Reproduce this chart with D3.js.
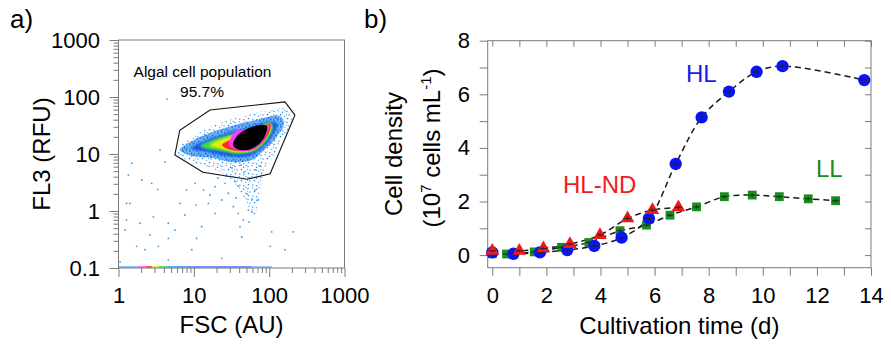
<!DOCTYPE html>
<html><head><meta charset="utf-8">
<script src="https://cdn.jsdelivr.net/npm/d3@7"></script>
<style>
body{margin:0;background:#fff;}
svg{display:block;font-family:"Liberation Sans",Arial,sans-serif;}
</style></head>
<body><svg id="c" width="891" height="350"></svg>
<script>
// ---------- Panel a data (FSC, FL3) ----------
const aTicks = [1, 10, 100, 1000];
const aYTicks = [0.1, 1, 10, 100, 1000];
const gate = [[16.4,59],[162,82],[220,48],[103,4.5],[51,3.6],[13.2,4.8],[5.6,9.6],[6.5,26]];
// density level contours (outer -> inner)
const halo = [[5.8,10.8],[8.9,19.1],[17.4,31],[41,44.6],[88,56.8],[173,61.5],[207,42.9],[153,17.6],[106,7.85],[80,3.23],[63,0.85],[47.8,1.56],[32.1,3.5],[17.4,5.7],[8.9,7.2]];
const lvlBlue = [[6.55,11.7],[9.46,16.9],[16.4,23.4],[35.2,32.3],[75.5,41.1],[139,46.5],[157,33.6],[123,19.1],[85.5,11.7],[59.2,7.85],[32.1,7.2],[17.4,8.5],[9.46,9.2]];
const lvlDeep = [[9.46,12.7],[14.1,16.9],[25.9,22.4],[55.7,29.8],[96.5,36.4],[127,33.6],[109,20.7],[80,12.7],[52.4,9.2],[28.4,9.2],[15.4,10.8]];
const lvlGreen = [[12.1,13.8],[17.4,17.6],[32.1,22.4],[64.9,28.6],[106,35],[112,28.6],[90.8,16.9],[63,11.3],[38.6,10],[22.3,11.3],[15,12.2]];
const lvlYellow = [[16.4,14.4],[23.7,18.3],[41,23.4],[71.1,28.6],[103,33.6],[106,27.5],[85.5,16.9],[61,11.7],[38.6,10.8],[23.7,12.2]];
const lvlRed = [[23.7,14.4],[32.1,18.3],[52.4,24.3],[80,29.8],[103,33.6],[103,26.4],[82.8,16.3],[59.2,11.7],[38.6,11.3],[28.4,12.2]];
const lvlMagenta = [[29.3,14.4],[36.3,25.4],[55.7,26.4],[82.8,31],[99.5,32.3],[96.5,25.4],[80,16.3],[57.4,11.7],[38.6,11.7]];
const lvlBlack = [[33.1,14.4],[37.4,20.7],[50.8,27.5],[78,32.3],[93.6,31],[88,20.7],[71.1,14.4],[50.8,11.7],[37.4,12.2]];
const sparse = [[1.35,4.3],[2.76,3.06],[3.31,2.4],[4.14,7.3],[1.28,1.36],[1.42,1.36],[1.28,0.7],[1.93,0.61],[2.9,0.79],[4.58,0.61],
 [6.55,1.36],[8.0,2.33],[10.4,3.06],[13.4,2.33],[15.6,1.36],[19.1,2.67],[23.4,1.56],[28.7,2.05],[33.4,1.19],[38.9,0.91],
 [41,0.53],[45.4,0.7],[52.9,1.04],[58.6,1.56],[64.9,2.33],[71.8,1.56],[108,0.43],[209,0.43],[1.74,0.24],[2.25,0.21],
 [3.38,0.24],[4.58,0.33],[10.9,0.33],[23.4,0.148],[4.58,0.138],[103,0.24],[162,0.21],[1.5,6.9],[1.22,0.46],[9.4,0.21],
 [43.2,0.35],[19.1,0.91],[12.7,0.53],[25.9,3.06],[35.2,3.27],[4.4,92],
 [26.7,4.1],[46.4,4.8],[55.7,3.8],[66.9,5.2],[38.6,2.75],[50.8,1.99],[59.2,0.96],[54,0.64],[36.3,1.69],[20.9,3.8],
 [16.4,1.91],[10.7,1.27],[7.6,0.85],[5.6,0.46],[2.62,0.38],[75.5,6.2],[32.1,5.7],[42.3,6.4],[1.05,0.127],[2.05,3.5],[3.56,11.7]];
const floorSegs = [[1.0,1.8,"#6ab0f0"],[1.8,2.3,"#ff50ff"],[2.3,2.8,"#ff3030"],[2.8,3.4,"#e8e020"],[3.4,4.5,"#40d040"],[4.5,8,"#30a0ff"],[8,60,"#5070ff"],[60,110,"#90b8ff"]];

// ---------- Panel b data ----------
const hlT   = [0, 0.78, 1.76, 2.77, 3.77, 4.78, 5.79, 6.78, 7.74, 8.75, 9.77, 10.73, 13.75];
const hlV   = [0.1, 0.05, 0.1, 0.19, 0.34, 0.65, 1.37, 3.4, 5.14, 6.1, 6.84, 7.05, 6.53];
const hlE   = [0.08, 0.05, 0.05, 0.05, 0.06, 0.08, 0.1, 0.12, 0.2, 0.12, 0.1, 0.1, 0.08];
const llT   = [0, 0.53, 1.55, 2.56, 3.57, 4.72, 5.7, 6.57, 7.55, 8.58, 9.61, 10.61, 11.68, 12.69];
const llV   = [0.05, 0.04, 0.12, 0.29, 0.47, 0.91, 1.12, 1.49, 1.8, 2.18, 2.24, 2.18, 2.1, 2.03];
const llE   = [0.05, 0.05, 0.06, 0.08, 0.1, 0.12, 0.1, 0.1, 0.1, 0.1, 0.1, 0.1, 0.1, 0.1];
const ndT   = [0, 1.0, 1.89, 2.87, 3.98, 5.0, 5.92, 6.88];
const ndV   = [0.16, 0.16, 0.25, 0.41, 0.75, 1.37, 1.68, 1.78];
const ndE   = [0.06, 0.06, 0.08, 0.08, 0.1, 0.12, 0.1, 0.12];
const bXTicks = d3.range(0, 15, 1);
const bYTicks = d3.range(0, 9, 1);

const svg = d3.select("#c");
const FRAME = "#7a7a7a";
const defs = svg.append("defs");
// speckle texture (style only)
const pat = defs.append("pattern").attr("id","speck").attr("patternUnits","userSpaceOnUse").attr("width",13).attr("height",11);
[[1,1.5,"#3a9ae8"],[5.2,0.8,"#54aef0"],[9.5,2.2,"#2a86e0"],[3,5,"#4aa4ee"],[7.5,4.6,"#1f7fe0"],[11.6,6.3,"#5cb4f2"],
 [1.5,8.6,"#2f8de6"],[5.8,9.3,"#49a6ef"],[9.8,9.8,"#3a9ae8"],[12,0.4,"#66b8f2"],[0.3,4.5,"#6ab8f4"]]
  .forEach(p=>pat.append("circle").attr("cx",p[0]).attr("cy",p[1]).attr("r",0.8).attr("fill",p[2]));
const pat2 = defs.append("pattern").attr("id","speck2").attr("patternUnits","userSpaceOnUse").attr("width",7).attr("height",6);
pat2.append("rect").attr("width",7).attr("height",6).attr("fill","#6fb6f4");
[[1,1,"#1c74ea"],[4.3,0.6,"#2a90f0"],[2.6,3.6,"#1560e8"],[5.8,3.2,"#30a4f4"],[0.4,5,"#2a88ee"],[4.6,5.3,"#1a6aec"]]
  .forEach(p=>pat2.append("circle").attr("cx",p[0]).attr("cy",p[1]).attr("r",1).attr("fill",p[2]));
defs.append("filter").attr("id","blur").append("feGaussianBlur").attr("stdDeviation",0.9);
defs.append("filter").attr("id","blur2").append("feGaussianBlur").attr("stdDeviation",0.5);

// ================= Panel a =================
const xA = d3.scaleLog().domain([1,1000]).range([118.5,344.5]);
const yA = d3.scaleLog().domain([0.1,1000]).range([268,40]);
const gA = svg.append("g");
const minorLog = (lo, hi) => { const r=[]; for(let d=lo; d<hi; d*=10) for(let k=2;k<10;k++) r.push(+(d*k).toPrecision(3)); return r; };

const lineA = d3.line().x(d=>xA(d[0])).y(d=>yA(d[1])).curve(d3.curveCatmullRomClosed.alpha(0.5));
gA.append("path").attr("d", lineA(halo)).attr("fill","url(#speck)");
gA.append("path").attr("d", lineA(lvlBlue)).attr("fill","url(#speck2)").attr("opacity",0.95).attr("filter","url(#blur2)");
gA.append("path").attr("d", lineA(lvlDeep)).attr("fill","#1450f5").attr("filter","url(#blur)");
gA.append("path").attr("d", lineA(lvlGreen)).attr("fill","#3ede40").attr("filter","url(#blur)");
gA.append("path").attr("d", lineA(lvlYellow)).attr("fill","#eaea10").attr("filter","url(#blur)");
gA.append("path").attr("d", lineA(lvlRed)).attr("fill","#ff2a2a").attr("filter","url(#blur2)");
gA.append("path").attr("d", lineA(lvlMagenta)).attr("fill","#ff38ff").attr("filter","url(#blur2)");
gA.append("path").attr("d", lineA(lvlBlack)).attr("fill","#000");

gA.selectAll("circle.sp").data(sparse).join("circle").attr("class","sp")
  .attr("cx",d=>xA(d[0])).attr("cy",d=>yA(d[1])).attr("r",0.9).attr("fill","#3a9ae8");
gA.selectAll("line.fl").data(floorSegs).join("line").attr("class","fl")
  .attr("x1",d=>xA(d[0])).attr("x2",d=>xA(d[1])).attr("y1",yA(0.1)-1).attr("y2",yA(0.1)-1)
  .attr("stroke",d=>d[2]).attr("stroke-width",1.6);

gA.append("path").attr("d", "M"+gate.map(d=>[xA(d[0]),yA(d[1])].join(",")).join("L")+"Z")
  .attr("fill","none").attr("stroke","#111").attr("stroke-width",1.1);

// frame + axes
gA.append("rect").attr("x",xA(1)).attr("y",yA(1000)).attr("width",xA(1000)-xA(1)).attr("height",yA(0.1)-yA(1000))
  .attr("fill","none").attr("stroke",FRAME).attr("stroke-width",1);
function styleAxis(g){ g.select(".domain").remove(); g.selectAll(".tick line").attr("stroke",FRAME); g.selectAll("text").attr("fill","#000").style("font-size","22px").style("font-family","'Liberation Sans',Arial,sans-serif"); }
gA.append("g").attr("transform",`translate(0,${yA(0.1)})`)
  .call(d3.axisBottom(xA).tickValues(aTicks).tickFormat(d3.format("d")).tickSize(9).tickPadding(10.4)).call(styleAxis);
gA.append("g").attr("transform",`translate(0,${yA(0.1)})`)
  .call(d3.axisBottom(xA).tickValues(minorLog(1,1000)).tickFormat("").tickSize(5)).call(styleAxis);
gA.append("g").attr("transform",`translate(${xA(1)},0)`)
  .call(d3.axisLeft(yA).tickValues(aYTicks).tickFormat(d=>d<1?"0.1":d3.format("d")(d)).tickSize(9).tickPadding(9.5)).call(styleAxis);
gA.append("g").attr("transform",`translate(${xA(1)},0)`)
  .call(d3.axisLeft(yA).tickValues(minorLog(0.1,1000)).tickFormat("").tickSize(5)).call(styleAxis);

gA.append("text").attr("x",(xA(1)+xA(1000))/2).attr("y",333).attr("text-anchor","middle").style("font-size","24px").text("FSC (AU)");
gA.append("text").attr("transform",`translate(50,${(yA(0.1)+yA(1000))/2}) rotate(-90)`).attr("text-anchor","middle").style("font-size","24px").text("FL3 (RFU)");
gA.append("text").attr("x",202.5).attr("y",77).attr("text-anchor","middle").style("font-size","15.5px").text("Algal cell population");
gA.append("text").attr("x",202).attr("y",97).attr("text-anchor","middle").style("font-size","15.5px").text("95.7%");
svg.append("text").attr("x",10).attr("y",28).style("font-size","26px").text("a)");

// ================= Panel b =================
const xB = d3.scaleLinear().domain([-0.17,14]).range([487.7,871]);
const yB = d3.scaleLinear().domain([-0.47,8]).range([267.7,40.7]);
const gB = svg.append("g");
gB.append("rect").attr("x",xB(-0.17)).attr("y",yB(8)).attr("width",xB(14)-xB(-0.17)).attr("height",yB(-0.47)-yB(8))
  .attr("fill","none").attr("stroke",FRAME).attr("stroke-width",1);
gB.append("g").attr("transform",`translate(0,${yB(-0.47)})`)
  .call(d3.axisBottom(xB).tickValues(bXTicks).tickFormat(d=>d%2===0?d:"").tickSize(8).tickPadding(11.7)).call(styleAxis);
gB.append("g").attr("transform",`translate(0,${yB(8)})`)
  .call(d3.axisBottom(xB).tickValues(bXTicks).tickFormat("").tickSize(6)).call(styleAxis);
gB.append("g").attr("transform",`translate(${xB(-0.17)},0)`)
  .call(d3.axisLeft(yB).tickValues(bYTicks).tickFormat(d=>d%2===0?d:"").tickSize(8).tickPadding(9.7)).call(styleAxis);
gB.append("g").attr("transform",`translate(${xB(14)},0)`)
  .call(d3.axisLeft(yB).tickValues(bYTicks).tickFormat("").tickSize(6)).call(styleAxis);

const series = [
  {t:llT, v:llV, e:llE, sym:d3.symbolSquare, size:78, fill:"#16901c"},
  {t:hlT, v:hlV, e:hlE, sym:d3.symbolCircle, size:120, fill:"#0c14f0"},
  {t:ndT, v:ndV, e:ndE, sym:d3.symbolTriangle, size:80, fill:"#ee1a1a"}
];
const lineB = d3.line().x(d=>xB(d[0])).y(d=>yB(d[1])).curve(d3.curveCatmullRom.alpha(0.5));
series.forEach(s=>{
  const pts = s.t.map((t,i)=>[t,s.v[i],s.e[i]]);
  gB.append("path").attr("d",lineB(pts)).attr("fill","none").attr("stroke","#1a1a1a").attr("stroke-width",1.5).attr("stroke-dasharray","6,4");
});
series.forEach(s=>{
  const pts = s.t.map((t,i)=>[t,s.v[i],s.e[i]]);
  const g = gB.append("g");
  g.selectAll("path").data(pts).join("path")
    .attr("d", d3.symbol().type(s.sym).size(s.size))
    .attr("transform", d=>`translate(${xB(d[0])},${yB(d[1])})`).attr("fill",s.fill);
  g.selectAll("line.eb").data(pts).join("line").attr("class","eb")
    .attr("x1",d=>xB(d[0])).attr("x2",d=>xB(d[0])).attr("y1",d=>yB(d[1]-d[2])-1).attr("y2",d=>yB(d[1]+d[2])+1)
    .attr("stroke","#222").attr("stroke-width",1);
  g.selectAll("line.ec").data(pts).join("line").attr("class","ec")
    .attr("x1",d=>xB(d[0])-3.5).attr("x2",d=>xB(d[0])+3.5).attr("y1",d=>yB(d[1])).attr("y2",d=>yB(d[1]))
    .attr("stroke","#222").attr("stroke-width",1);
});

gB.append("text").attr("x",(xB(-0.17)+xB(14))/2).attr("y",334).attr("text-anchor","middle").style("font-size","24px").text("Cultivation time (d)");
gB.append("text").attr("transform",`translate(402,154) rotate(-90)`).attr("text-anchor","middle").style("font-size","24px").text("Cell density");
const t2 = gB.append("text").attr("transform",`translate(440,148) rotate(-90)`).attr("text-anchor","middle").style("font-size","24px");
t2.append("tspan").text("(10");
t2.append("tspan").attr("dy",-9).style("font-size","15px").text("7");
t2.append("tspan").attr("dy",9).text(" cells mL");
t2.append("tspan").attr("dy",-9).style("font-size","15px").text("-1");
t2.append("tspan").attr("dy",9).text(")");
gB.append("text").attr("x",686).attr("y",82).style("font-size","24px").attr("fill","#1a1ae8").text("HL");
gB.append("text").attr("x",816).attr("y",177).style("font-size","24px").attr("fill","#1a8a1e").text("LL");
gB.append("text").attr("x",563).attr("y",193).style("font-size","24px").attr("fill","#ee1c24").text("HL-ND");
svg.append("text").attr("x",364).attr("y",28).style("font-size","26px").text("b)");
</script></body></html>
